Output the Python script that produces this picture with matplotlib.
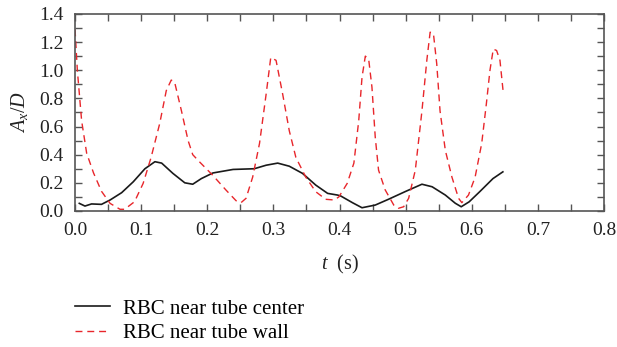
import numpy as np
import matplotlib
matplotlib.use('Agg')
import matplotlib.pyplot as plt
from matplotlib.ticker import MultipleLocator

plt.rcParams['font.family'] = ['Liberation Serif', 'DejaVu Serif']
plt.rcParams['mathtext.fontset'] = 'custom'
plt.rcParams['mathtext.it'] = 'Liberation Serif:italic'
plt.rcParams['mathtext.rm'] = 'Liberation Serif'

# RBC near tube center (solid black)
t_center = [0.0065, 0.015, 0.025, 0.040, 0.053, 0.0705, 0.088, 0.1057, 0.1208,
            0.131, 0.148, 0.166, 0.178, 0.191, 0.2085, 0.239, 0.271, 0.289,
            0.3065, 0.324, 0.344, 0.364, 0.382, 0.397, 0.402, 0.4195, 0.434,
            0.454, 0.474, 0.499, 0.5246, 0.540, 0.56, 0.575, 0.584, 0.596,
            0.612, 0.632, 0.647]
a_center = [0.054, 0.035, 0.05, 0.047, 0.078, 0.13, 0.207, 0.30, 0.35,
            0.34, 0.267, 0.20, 0.19, 0.23, 0.27, 0.295, 0.30, 0.325,
            0.34, 0.318, 0.267, 0.184, 0.125, 0.113, 0.106, 0.059, 0.023,
            0.042, 0.083, 0.137, 0.19, 0.172, 0.113, 0.055, 0.03, 0.065,
            0.137, 0.23, 0.278]

# RBC near tube wall (red dashed)
t_wall = [0.0, 0.0035, 0.010, 0.0176, 0.028, 0.040, 0.053, 0.068, 0.075, 0.090,
          0.103, 0.115, 0.128, 0.138, 0.1455, 0.1506, 0.161, 0.171, 0.178,
          0.188, 0.208, 0.228, 0.2435, 0.251, 0.2586, 0.2686, 0.279, 0.289,
          0.296, 0.304, 0.314, 0.324, 0.334, 0.349, 0.364, 0.379, 0.392,
          0.399, 0.4116, 0.4217, 0.429, 0.434, 0.439, 0.444, 0.449, 0.454,
          0.459, 0.469, 0.482, 0.489, 0.497, 0.5045, 0.5146, 0.5246, 0.532,
          0.537, 0.542, 0.547, 0.552, 0.56, 0.57, 0.58, 0.585, 0.595, 0.605,
          0.615, 0.622, 0.6275, 0.6325, 0.6375, 0.6426, 0.6476]
a_wall = [1.29, 1.0, 0.64, 0.41, 0.27, 0.14, 0.054, 0.012, 0.012, 0.066,
          0.196, 0.38, 0.62, 0.855, 0.93, 0.915, 0.71, 0.50, 0.40,
          0.35, 0.255, 0.15, 0.073, 0.059, 0.09, 0.24, 0.48, 0.83,
          1.09, 1.07, 0.83, 0.57, 0.38, 0.24, 0.137, 0.083, 0.078,
          0.10, 0.196, 0.34, 0.64, 0.95, 1.10, 1.08, 0.88, 0.525,
          0.29, 0.15, 0.042, 0.019, 0.03, 0.09, 0.29, 0.71, 1.07,
          1.27, 1.26, 1.045, 0.71, 0.43, 0.24, 0.09, 0.059, 0.113, 0.24,
          0.48, 0.76, 1.0, 1.15, 1.14, 1.07, 0.84]

fig = plt.figure(figsize=(6.17, 3.47), dpi=100)
ax = fig.add_axes([0.1216, 0.392, 0.8574, 0.568])

ax.plot(t_center, a_center, color='#1a1a1a', lw=1.2, label='RBC near tube center')
ax.plot(t_wall, a_wall, color='#e8262b', lw=1.0, dashes=(5, 3.5), label='RBC near tube wall')

ax.set_xlim(0, 0.8)
ax.set_ylim(0, 1.4)
ax.xaxis.set_major_locator(MultipleLocator(0.1))
ax.xaxis.set_minor_locator(MultipleLocator(0.05))
ax.yaxis.set_major_locator(MultipleLocator(0.2))
ax.yaxis.set_minor_locator(MultipleLocator(0.1))
ax.xaxis.set_major_formatter(plt.FuncFormatter(lambda v, p: f'{v:.1f}'))
ax.yaxis.set_major_formatter(plt.FuncFormatter(lambda v, p: f'{v:.1f}'))

ax.tick_params(which='both', direction='in', top=True, right=True,
               color='#555555', labelsize=14, labelcolor='#222222')
ax.tick_params(which='both', length=5, width=1.0)
ax.tick_params(axis='x', which='major', pad=8)
ax.tick_params(axis='y', which='major', pad=8)
for s in ax.spines.values():
    s.set_color('#555555')
    s.set_linewidth(1.2)

ax.set_xlabel('$t$  (s)', fontsize=14.5, color='#222222', labelpad=10)
ax.set_ylabel('$A_x/D$', fontsize=14.5, color='#222222', labelpad=7)

fig.legend(loc='upper left', bbox_to_anchor=(0.1216, 0.138), frameon=False,
           fontsize=15, handlelength=1.68, handletextpad=0.62,
           labelspacing=0.25, borderpad=0, borderaxespad=0)

fig.savefig('out.png', dpi=100)
